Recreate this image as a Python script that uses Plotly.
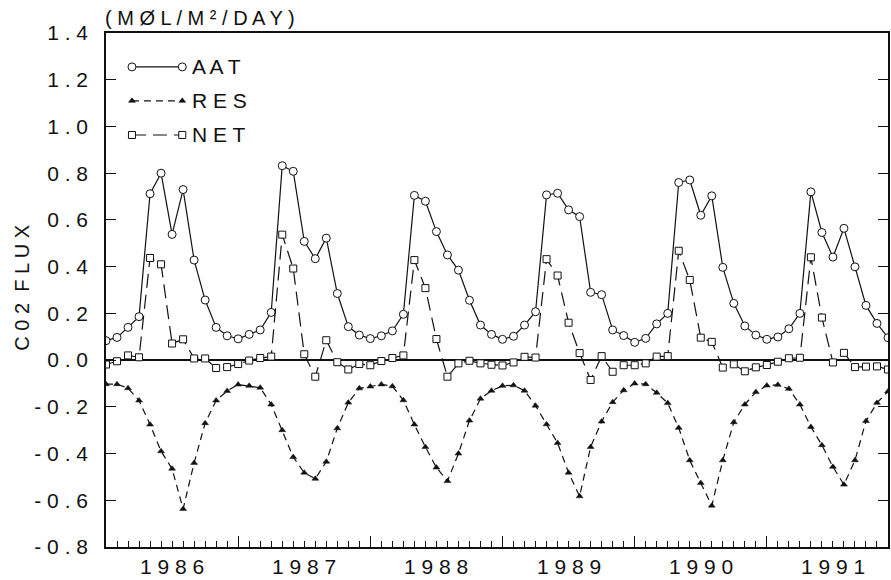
import plotly.graph_objects as go

# ---------------- data ----------------
years = [1986, 1987, 1988, 1989, 1990, 1991]
months = list(range(72))  # month index, 0 = Jan 1986

aat = [0.083, 0.097, 0.140, 0.186, 0.712, 0.800, 0.538, 0.730, 0.428, 0.257, 0.140, 0.104,
       0.091, 0.110, 0.129, 0.204, 0.832, 0.808, 0.508, 0.434, 0.522, 0.285, 0.143, 0.107,
       0.092, 0.104, 0.125, 0.196, 0.705, 0.680, 0.550, 0.450, 0.385, 0.256, 0.150, 0.110,
       0.089, 0.102, 0.150, 0.207, 0.707, 0.714, 0.643, 0.614, 0.290, 0.280, 0.129, 0.105,
       0.076, 0.093, 0.155, 0.200, 0.760, 0.771, 0.620, 0.703, 0.397, 0.243, 0.146, 0.107,
       0.089, 0.099, 0.134, 0.200, 0.720, 0.546, 0.441, 0.564, 0.399, 0.234, 0.157, 0.096]

res = [-0.103, -0.103, -0.120, -0.173, -0.276, -0.390, -0.465, -0.637, -0.440, -0.270, -0.173, -0.132,
       -0.105, -0.110, -0.118, -0.190, -0.300, -0.415, -0.482, -0.508, -0.435, -0.292, -0.182, -0.121,
       -0.113, -0.104, -0.112, -0.172, -0.276, -0.372, -0.460, -0.518, -0.400, -0.259, -0.165, -0.131,
       -0.110, -0.108, -0.131, -0.195, -0.275, -0.355, -0.482, -0.583, -0.372, -0.263, -0.180, -0.129,
       -0.100, -0.103, -0.140, -0.184, -0.290, -0.429, -0.526, -0.623, -0.429, -0.266, -0.190, -0.137,
       -0.109, -0.106, -0.123, -0.190, -0.286, -0.364, -0.457, -0.533, -0.429, -0.261, -0.183, -0.134]

net = [-0.019, -0.005, 0.020, 0.012, 0.437, 0.410, 0.071, 0.089, 0.007, 0.007, -0.034, -0.030,
       -0.017, -0.002, 0.009, 0.015, 0.537, 0.392, 0.025, -0.071, 0.085, -0.009, -0.040, -0.017,
       -0.022, -0.004, 0.009, 0.020, 0.428, 0.308, 0.090, -0.071, -0.014, -0.003, -0.014, -0.020,
       -0.023, -0.010, 0.014, 0.011, 0.432, 0.362, 0.160, 0.030, -0.085, 0.017, -0.050, -0.022,
       -0.022, -0.014, 0.015, 0.017, 0.468, 0.343, 0.096, 0.078, -0.032, -0.018, -0.048, -0.031,
       -0.021, -0.007, 0.008, 0.010, 0.440, 0.182, -0.010, 0.031, -0.030, -0.028, -0.027, -0.040]

ytick_vals = [1.4, 1.2, 1.0, 0.8, 0.6, 0.4, 0.2, 0.0, -0.2, -0.4, -0.6, -0.8]
ytick_text = ["1 . 4", "1 . 2", "1 . 0", "0 . 8", "0 . 6", "0 . 4", "0 . 2", "0 . 0",
              "- 0 . 2", "- 0 . 4", "- 0 . 6", "- 0 . 8"]
year_text = ["1 9 8 6", "1 9 8 7", "1 9 8 8", "1 9 8 9", "1 9 9 0", "1 9 9 1"]
series_names = ["A A T", "R E S", "N E T"]

FONT = "Liberation Sans"
BLACK = "#111111"
RES_DASH = "7px,5px"
NET_DASH = "14px,7px"

AAT_MK = dict(symbol="circle", size=8, color="white", line=dict(color=BLACK, width=1))
RES_MK = dict(symbol="triangle-up", size=6, color=BLACK, line=dict(color=BLACK, width=0.5))
NET_MK = dict(symbol="square", size=7, color="white", line=dict(color=BLACK, width=1))

fig = go.Figure()

common_line = dict(color=BLACK, width=1.2)

fig.add_trace(go.Scatter(x=months, y=aat, mode="lines+markers", name="AAT",
                         line=dict(**common_line, dash="solid"), marker=AAT_MK, showlegend=False))
fig.add_trace(go.Scatter(x=months, y=res, mode="lines+markers", name="RES",
                         line=dict(**common_line, dash=RES_DASH), marker=RES_MK, showlegend=False))
fig.add_trace(go.Scatter(x=months, y=net, mode="lines+markers", name="NET",
                         line=dict(**common_line, dash=NET_DASH), marker=NET_MK, showlegend=False))

# ---------- hand-drawn legend on an overlay (paper-like) axis ----------
legend_specs = [(0.934, "solid", AAT_MK), (0.868, RES_DASH, RES_MK), (0.8016, NET_DASH, NET_MK)]
for (ly, dash, mk), label in zip(legend_specs, series_names):
    fig.add_trace(go.Scatter(
        x=[0.0332, 0.0975], y=[ly, ly], mode="lines+markers",
        line=dict(color=BLACK, width=1.2, dash=dash), marker=mk,
        xaxis="x2", yaxis="y2", showlegend=False, hoverinfo="skip"))
    fig.add_annotation(x=0.108, y=ly, xref="paper", yref="paper", text=label,
                       showarrow=False, xanchor="left", yanchor="middle",
                       font=dict(family=FONT, size=21, color=BLACK))

# year labels centred inside each year
for i, yt in enumerate(year_text):
    fig.add_annotation(x=6 + 12 * i, y=0, xref="x", yref="paper", text=yt,
                       showarrow=False, xanchor="center", yanchor="middle", yshift=-19,
                       font=dict(family=FONT, size=21, color=BLACK))

# units label
fig.add_annotation(x=0, y=1.0, xref="paper", yref="paper",
                   text="( M Ø L / M ² / D A Y )", showarrow=False,
                   xanchor="left", yanchor="middle", yshift=15, xshift=-3,
                   font=dict(family=FONT, size=20, color=BLACK))

# y axis title
fig.add_annotation(x=-0.107, y=0.505, xref="paper", yref="paper",
                   text="C 0 2  F L U X", textangle=-90, showarrow=False,
                   xanchor="center", yanchor="middle",
                   font=dict(family=FONT, size=20, color=BLACK))

fig.update_layout(
    width=891, height=580,
    margin=dict(l=106, r=1, t=33, b=33, pad=0),
    paper_bgcolor="white", plot_bgcolor="white",
    font=dict(family=FONT, size=21, color=BLACK),
    xaxis=dict(
        range=[0, 71], showgrid=False, zeroline=False,
        showline=True, linecolor=BLACK, linewidth=1.6, mirror=True,
        tickmode="linear", tick0=0, dtick=12, ticks="inside", ticklen=11,
        tickcolor=BLACK, tickwidth=1.2, showticklabels=False,
        minor=dict(tickmode="linear", tick0=0, dtick=1, ticks="inside",
                   ticklen=6, tickcolor=BLACK, tickwidth=1),
    ),
    yaxis=dict(
        range=[-0.8, 1.4], showgrid=False,
        zeroline=True, zerolinecolor=BLACK, zerolinewidth=1.6,
        showline=True, linecolor=BLACK, linewidth=1.6, mirror="ticks",
        tickmode="array", tickvals=ytick_vals, ticktext=ytick_text,
        ticks="inside", ticklen=10, tickcolor=BLACK, tickwidth=1.2,
        ticklabelstandoff=12,
        tickfont=dict(family=FONT, size=21, color=BLACK),
    ),
    xaxis2=dict(overlaying="x", range=[0, 1], visible=False),
    yaxis2=dict(overlaying="y", range=[0, 1], visible=False),
)

fig.write_html("out.html")
